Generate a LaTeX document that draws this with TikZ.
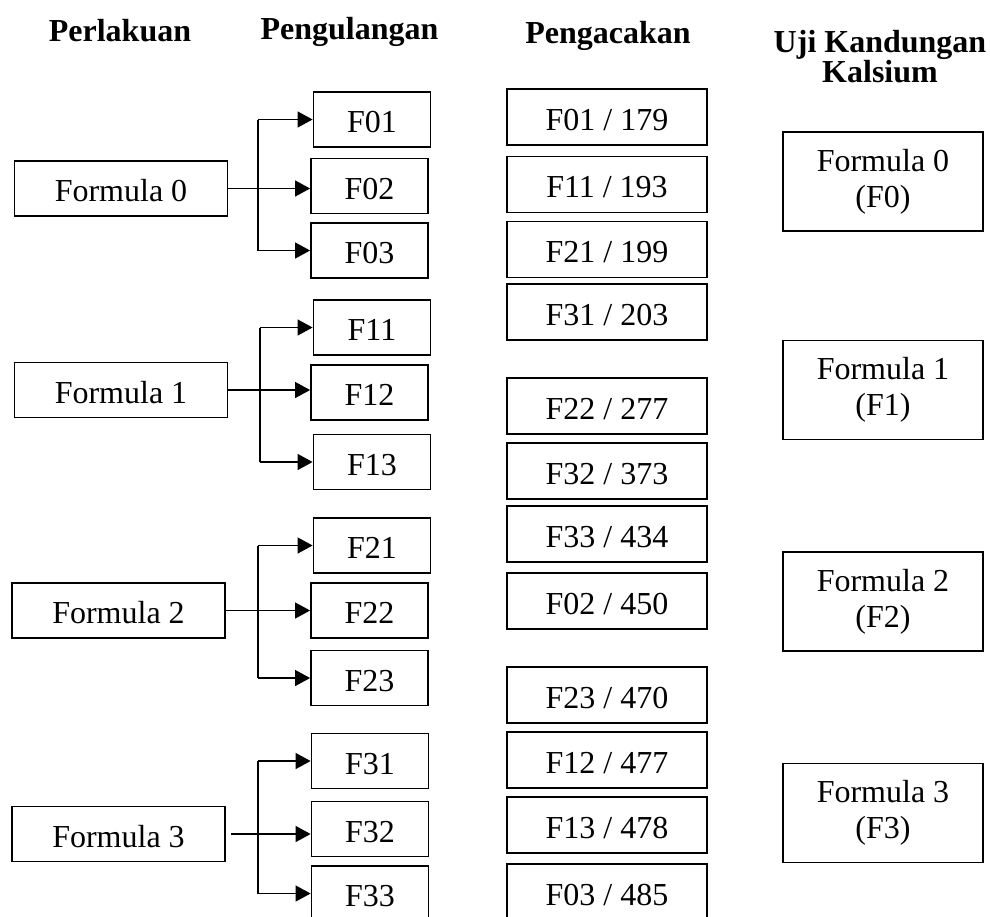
\documentclass[tikz,border=0pt]{standalone}
\usepackage{fontspec}
\setmainfont{Liberation Serif}
\usetikzlibrary{arrows.meta}

\begin{document}
\begin{tikzpicture}[x=1pt,y=-1pt,
  every node/.style={font=\fontsize{32}{36}\selectfont},
  box/.style={draw,line width=1.8pt,inner sep=0pt,text height=26pt,text depth=0pt},
  treat/.style={box,minimum width=213pt,minimum height=55pt},
  rep/.style={box,minimum width=117pt,minimum height=55pt},
  rand/.style={box,minimum width=200pt,minimum height=56pt},
  test/.style={draw,line width=1.8pt,inner sep=0pt,align=center,
    minimum width=200pt,minimum height=99pt},
  header/.style={font=\fontsize{32}{30.5}\selectfont\bfseries,inner sep=0pt,align=center},
  conn/.style={line width=1.2pt},
  arr/.style={conn,-{Triangle[length=15pt,width=16pt]}}
]
\useasboundingbox (0,0) rectangle (990,916);

% column headings
\node[header,anchor=base] (hTreat) at (120,41.7) {Perlakuan};
\node[header,anchor=base] (hRep)   at (349.5,39) {Pengulangan};
\node[header,anchor=base] (hRand)  at (608,43.3) {Pengacakan};
\node[header] (hTest) at (880,56.4) {Uji Kandungan\\Kalsium};

% treatments
\node[treat] (P0) at (121,188.5) {Formula 0};
\node[treat] (P1) at (121,390)   {Formula 1};
\node[treat] (P2) at (118.5,610.5) {Formula 2};
\node[treat] (P3) at (118.5,834) {Formula 3};

% replications
\node[rep] (F01) at (372,119.5)   {F01};
\node[rep] (F02) at (369.5,186)   {F02};
\node[rep] (F03) at (369.5,250.5) {F03};
\node[rep] (F11) at (372,327.5)   {F11};
\node[rep] (F12) at (369.5,392.5) {F12};
\node[rep] (F13) at (372,462)     {F13};
\node[rep] (F21) at (372,545.5)   {F21};
\node[rep] (F22) at (369.5,610.5) {F22};
\node[rep] (F23) at (369.5,678)   {F23};
\node[rep] (F31) at (370,761)     {F31};
\node[rep] (F32) at (370,829)     {F32};
\node[rep] (F33) at (370,893.5)   {F33};

% randomised order
\node[rand] (R01) at (607,117)   {F01 / 179};
\node[rand] (R02) at (607,184.5) {F11 / 193};
\node[rand] (R03) at (607,249.5) {F21 / 199};
\node[rand] (R04) at (607,312)   {F31 / 203};
\node[rand] (R05) at (607,406)   {F22 / 277};
\node[rand] (R06) at (607,471)   {F32 / 373};
\node[rand] (R07) at (607,534)   {F33 / 434};
\node[rand] (R08) at (607,601)   {F02 / 450};
\node[rand] (R09) at (607,695)   {F23 / 470};
\node[rand] (R10) at (607,760)   {F12 / 477};
\node[rand] (R11) at (607,825)   {F13 / 478};
\node[rand] (R12) at (607,892)   {F03 / 485};

% calcium tests
\node[test] (T0) at (883,181.5) {Formula 0\\(F0)};
\node[test] (T1) at (883,390)   {Formula 1\\(F1)};
\node[test] (T2) at (883,601.5) {Formula 2\\(F2)};
\node[test] (T3) at (883,813)   {Formula 3\\(F3)};

% branch points
\coordinate (b0) at (258,0);
\coordinate (b1) at (260,0);
\coordinate (b2) at (258,0);
\coordinate (b3) at (258,0);

% Formula 0
\draw[conn] (b0 |- F01.west) -- (b0 |- F03.west);
\draw[arr] (b0 |- F01.west) -- (F01.west);
\draw[arr] (P0.east) -- (P0.east -| F02.west);
\draw[arr] (b0 |- F03.west) -- (F03.west);
% Formula 1
\draw[conn] (b1 |- F11.west) -- (b1 |- F13.west);
\draw[arr] (b1 |- F11.west) -- (F11.west);
\draw[arr] (P1.east) -- (P1.east -| F12.west);
\draw[arr] (b1 |- F13.west) -- (F13.west);
% Formula 2
\draw[conn] (b2 |- F21.west) -- (b2 |- F23.west);
\draw[arr] (b2 |- F21.west) -- (F21.west);
\draw[arr] (P2.east) -- (P2.east -| F22.west);
\draw[arr] (b2 |- F23.west) -- (F23.west);
% Formula 3
\draw[conn] (b3 |- F31.west) -- (b3 |- F33.west);
\draw[arr] (b3 |- F31.west) -- (F31.west);
\draw[arr] ([xshift=5pt]P3.east) -- (P3.east -| F32.west);
\draw[arr] (b3 |- F33.west) -- (F33.west);
\end{tikzpicture}
\end{document}
